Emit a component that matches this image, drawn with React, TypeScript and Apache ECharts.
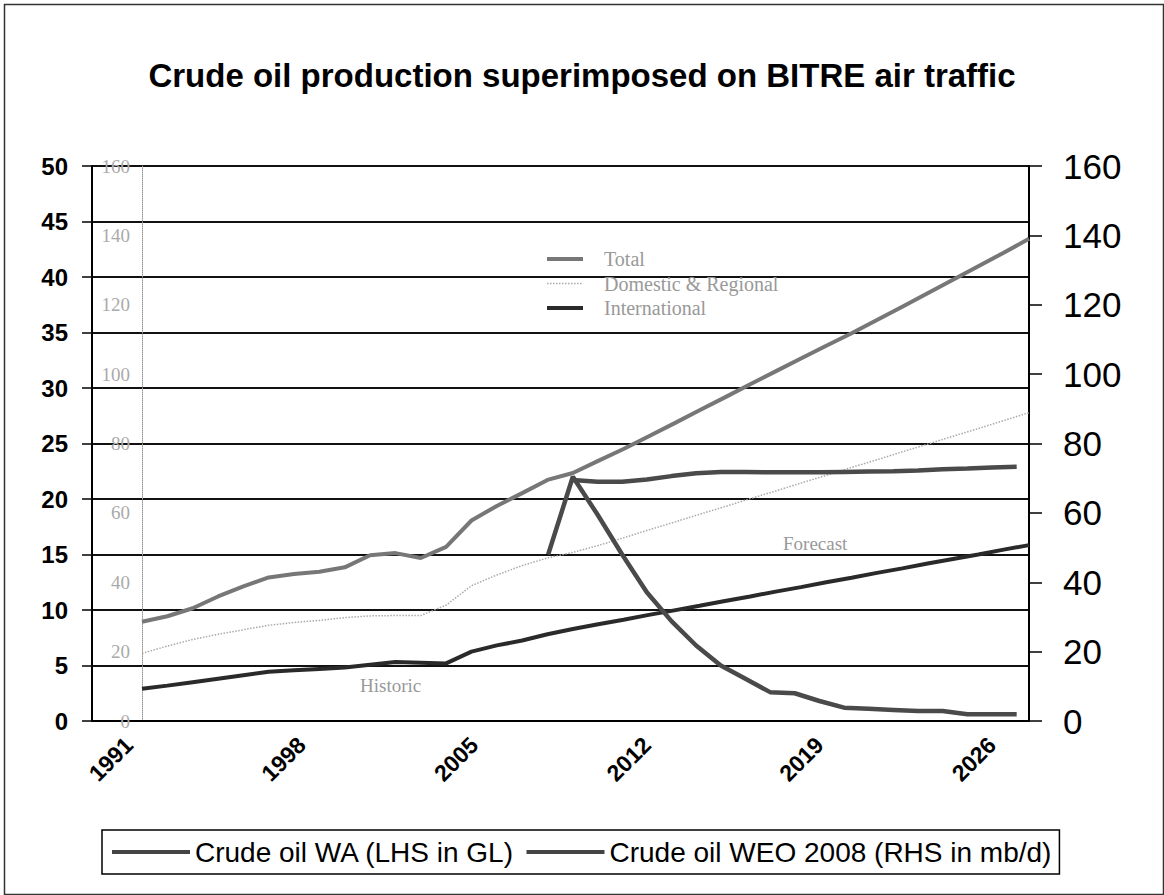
import React, { useEffect, useRef } from 'react';
import * as echarts from 'echarts';

// Crude oil chart categories (points sit in the middle of each band)
const crudeYears = [
  '1990', '1991', '1992', '1993', '1994', '1995', '1996', '1997', '1998', '1999',
  '2000', '2001', '2002', '2003', '2004', '2005', '2006', '2007', '2008', '2009',
  '2010', '2011', '2012', '2013', '2014', '2015', '2016', '2017', '2018', '2019',
  '2020', '2021', '2022', '2023', '2024', '2025', '2026', '2027',
];

// Crude oil WA (LHS, GL)
const waProduction = [
  null, null, null, null, null, null, null, null, null, null,
  null, null, null, null, null, null, null, null, 15.0, 22.0,
  18.6, 15.0, 11.6, 9.0, 6.8, 5.0, 3.8, 2.6, 2.5, 1.8,
  1.2, 1.1, 1.0, 0.9, 0.9, 0.6, 0.6, 0.6,
];

// Crude oil WEO 2008 (RHS, mb/d)
const weoProduction = [
  null, null, null, null, null, null, null, null, null, null,
  null, null, null, null, null, null, null, null, null, 69.5,
  69.0, 69.0, 69.6, 70.6, 71.4, 71.8, 71.8, 71.7, 71.7, 71.7,
  71.8, 71.9, 72.0, 72.2, 72.6, 72.8, 73.1, 73.3,
];

// BITRE air traffic chart (superimposed, its own axis 0-160)
const bitreYears = [
  '1991', '1992', '1993', '1994', '1995', '1996', '1997', '1998', '1999', '2000',
  '2001', '2002', '2003', '2004', '2005', '2006', '2007', '2008', '2009', '2010',
  '2011', '2012', '2013', '2014', '2015', '2016', '2017', '2018', '2019', '2020',
  '2021', '2022', '2023', '2024', '2025', '2026',
];
const totalTraffic = [
  28.6, 30.2, 32.5, 35.9, 38.8, 41.4, 42.4, 43.0, 44.3, 47.8,
  48.4, 47.0, 50.2, 57.8, 62.0, 65.7, 69.5, 71.5, 75.0, 78.4,
  82.1, 85.8, 89.6, 93.3, 97.1, 100.8, 104.5, 108.2, 111.8, 115.6,
  119.4, 123.3, 127.2, 131.1, 135.0, 139.0,
];
const domesticTraffic = [
  19.5, 21.6, 23.5, 25.0, 26.3, 27.6, 28.4, 29.0, 29.8, 30.3,
  30.4, 30.4, 33.4, 39.0, 42.1, 44.8, 47.0, 48.6, 50.6, 52.8,
  55.1, 57.3, 59.6, 61.8, 64.1, 66.3, 68.6, 70.8, 73.1, 75.3,
  77.6, 79.8, 82.1, 84.3, 86.6, 88.9,
];
const internationalTraffic = [
  9.3, 10.2, 11.2, 12.2, 13.2, 14.2, 14.6, 15.0, 15.4, 16.2,
  17.0, 16.8, 16.6, 20.0, 21.8, 23.2, 25.0, 26.5, 27.9, 29.2,
  30.6, 31.9, 33.2, 34.6, 35.9, 37.3, 38.6, 40.0, 41.3, 42.7,
  44.0, 45.4, 46.7, 48.0, 49.4, 50.7,
];

const SANS = '"Liberation Sans", Arial, sans-serif';
const SERIF = '"Liberation Serif", "Times New Roman", serif';

export default function App() {
  const ref = useRef<HTMLDivElement>(null);

  useEffect(() => {
    if (!ref.current) return;
    const chart = echarts.init(ref.current, undefined, { renderer: 'svg' });
    const option: any = {
      animation: false,
      backgroundColor: '#ffffff',
      title: {
        text: 'Crude oil production superimposed on BITRE air traffic',
        left: 'center',
        top: 54,
        textStyle: { fontFamily: SANS, fontSize: 33, fontWeight: 'bold', color: '#000' },
      },
      grid: [
        { left: 92, right: 135, top: 166, bottom: 174 },
        { left: 142, right: 135, top: 166, bottom: 174 },
      ],
      legend: [
        {
          data: [
            { name: 'Crude oil WA (LHS in GL)', lineStyle: { width: 4, color: '#444' } },
            { name: 'Crude oil WEO 2008 (RHS in mb/d)', lineStyle: { width: 4, color: '#444' } },
          ],
          left: 102,
          top: 830,
          orient: 'horizontal',
          itemWidth: 78,
          itemHeight: 14,
          itemGap: 10,
          padding: [8, 8],
          borderColor: '#000',
          borderWidth: 1.5,
          itemStyle: { opacity: 0 },
          textStyle: { fontFamily: SANS, fontSize: 28, color: '#000' },
        },
        {
          data: [
            { name: 'Total', lineStyle: { width: 4, color: '#777' } },
            { name: 'Domestic & Regional', lineStyle: { width: 1.5, color: '#aaa', type: 'dotted' } },
            { name: 'International', lineStyle: { width: 4, color: '#2a2a2a' } },
          ],
          left: 545,
          top: 249,
          orient: 'vertical',
          itemWidth: 36,
          itemHeight: 12,
          itemGap: 4.5,
          padding: 0,
          itemStyle: { opacity: 0 },
          textStyle: { fontFamily: SERIF, fontSize: 20, color: '#999', lineHeight: 16, padding: [0, 0, 0, 16] },
        },
      ],
      xAxis: [
        {
          type: 'category',
          gridIndex: 0,
          data: crudeYears,
          boundaryGap: true,
          axisLine: { lineStyle: { color: '#000', width: 2 } },
          axisTick: { interval: 0, length: 8, lineStyle: { color: '#000', width: 1.5 } },
          axisLabel: {
            interval: (idx: number) => (idx - 1) % 7 === 0,
            rotate: 45,
            margin: 20,
            fontFamily: SANS,
            fontSize: 23,
            fontWeight: 'bold',
            color: '#000',
          },
          splitLine: { show: false },
        },
        {
          type: 'category',
          gridIndex: 1,
          data: bitreYears,
          boundaryGap: false,
          show: false,
        },
      ],
      yAxis: [
        {
          type: 'value',
          gridIndex: 0,
          position: 'left',
          min: 0,
          max: 50,
          interval: 5,
          axisLine: { show: true, lineStyle: { color: '#000', width: 2 } },
          axisTick: { show: true, length: 10, lineStyle: { color: '#000', width: 1.5 } },
          axisLabel: { margin: 24, fontFamily: SANS, fontSize: 24, fontWeight: 'bold', color: '#000' },
          splitLine: { show: true, lineStyle: { color: '#111', width: 1.8 } },
        },
        {
          type: 'value',
          gridIndex: 0,
          position: 'right',
          min: 0,
          max: 160,
          interval: 20,
          axisLine: { show: true, lineStyle: { color: '#000', width: 2 } },
          axisTick: { show: true, length: 13, lineStyle: { color: '#000', width: 1.5 } },
          axisLabel: { margin: 34, fontFamily: SANS, fontSize: 35, color: '#000' },
          splitLine: { show: false },
        },
        {
          type: 'value',
          gridIndex: 1,
          position: 'left',
          min: 0,
          max: 160,
          interval: 20,
          axisLine: { show: true, lineStyle: { color: '#999', width: 1, type: 'dotted' } },
          axisTick: { show: false },
          axisLabel: { margin: 12, fontFamily: SERIF, fontSize: 19, color: '#aaa' },
          splitLine: { show: false },
        },
      ],
      series: [
        {
          name: 'Total',
          type: 'line',
          xAxisIndex: 1,
          yAxisIndex: 2,
          data: totalTraffic,
          symbol: 'none',
          lineStyle: { color: '#777', width: 4 },
          itemStyle: { color: '#777' },
          z: 3,
        },
        {
          name: 'Domestic & Regional',
          type: 'line',
          xAxisIndex: 1,
          yAxisIndex: 2,
          data: domesticTraffic,
          symbol: 'none',
          lineStyle: { color: '#aaa', width: 1.5, type: 'dotted' },
          itemStyle: { color: '#aaa' },
          z: 3,
        },
        {
          name: 'International',
          type: 'line',
          xAxisIndex: 1,
          yAxisIndex: 2,
          data: internationalTraffic,
          symbol: 'none',
          lineStyle: { color: '#2a2a2a', width: 4 },
          itemStyle: { color: '#2a2a2a' },
          z: 3,
        },
        {
          name: 'Crude oil WA (LHS in GL)',
          type: 'line',
          xAxisIndex: 0,
          yAxisIndex: 0,
          data: waProduction,
          symbol: 'none',
          lineStyle: { color: '#4a4a4a', width: 4.5 },
          itemStyle: { color: '#4a4a4a' },
          z: 4,
        },
        {
          name: 'Crude oil WEO 2008 (RHS in mb/d)',
          type: 'line',
          xAxisIndex: 0,
          yAxisIndex: 1,
          data: weoProduction,
          symbol: 'none',
          lineStyle: { color: '#4a4a4a', width: 4.5 },
          itemStyle: { color: '#4a4a4a' },
          z: 4,
        },
      ],
      graphic: [
        {
          type: 'rect',
          left: 2,
          top: 2,
          shape: { width: 1159, height: 890 },
          style: { fill: 'none', stroke: '#333', lineWidth: 1.5 },
          silent: true,
        },
        {
          type: 'text',
          left: 360,
          top: 676,
          style: { text: 'Historic', fill: '#999', font: `19px ${SERIF}` },
          silent: true,
        },
        {
          type: 'text',
          left: 783,
          top: 534,
          style: { text: 'Forecast', fill: '#999', font: `19px ${SERIF}` },
          silent: true,
        },
      ],
    };
    chart.setOption(option);
    return () => chart.dispose();
  }, []);

  return (
    <div
      ref={ref}
      style={{ position: 'absolute', left: 0, top: 0, width: 1164, height: 895 }}
    />
  );
}
